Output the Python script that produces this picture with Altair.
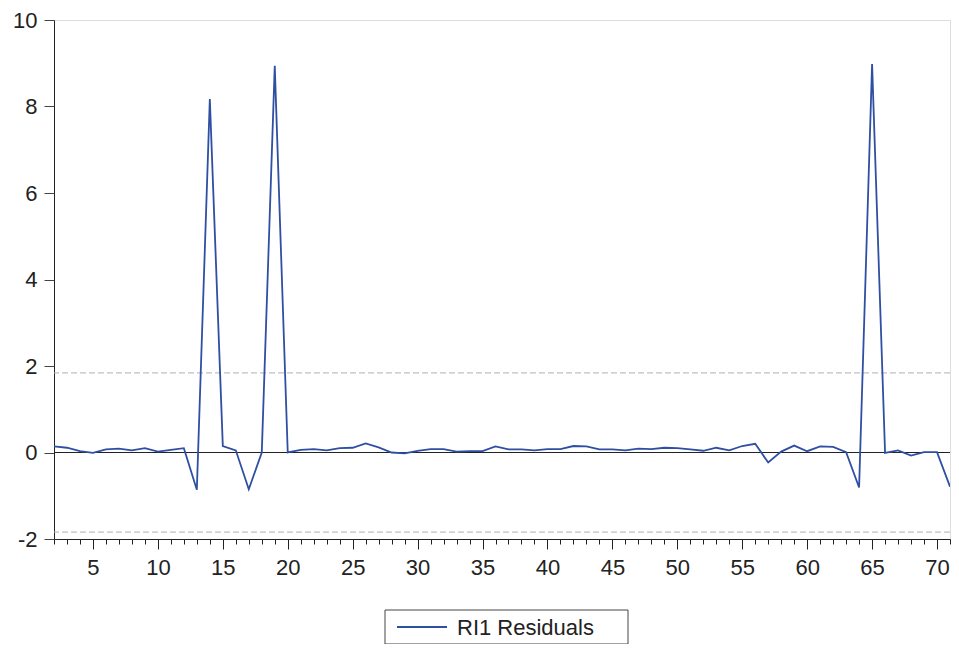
import altair as alt
import pandas as pd

obs = list(range(2, 72))
resid = [0.14, 0.11, 0.03, -0.01, 0.07, 0.09, 0.05, 0.10, 0.02, 0.06,
         0.10, -0.86, 8.17, 0.15, 0.05, -0.85, 0.00, 8.94, 0.00, 0.06,
         0.08, 0.05, 0.10, 0.11, 0.21, 0.12, 0.00, -0.02, 0.04, 0.08,
         0.08, 0.02, 0.03, 0.03, 0.14, 0.07, 0.07, 0.05, 0.08, 0.08,
         0.15, 0.14, 0.07, 0.07, 0.05, 0.09, 0.08, 0.11, 0.10, 0.07,
         0.04, 0.11, 0.05, 0.15, 0.20, -0.23, 0.02, 0.16, 0.03, 0.14,
         0.13, 0.01, -0.81, 8.98, -0.01, 0.05, -0.07, 0.01, 0.01, -0.79]
series_name = ["RI1 Residuals"]
band = [1.84, -1.84]
zero_line = [0.0]

df = pd.DataFrame({"obs": obs, "resid": resid})
df_band = pd.DataFrame({"y": band})
df_zero = pd.DataFrame({"y": zero_line})
df_leg = pd.DataFrame({"name": series_name})

FONT = "Liberation Sans"
BLUE = "#2f4fa3"
FS = 22

xscale = alt.Scale(domain=[2, 71], nice=False, zero=False)
yscale = alt.Scale(domain=[-2, 10], nice=False, zero=False)

line = alt.Chart(df).mark_line(strokeWidth=1.8, color=BLUE, clip=True).encode(
    x=alt.X("obs:Q", scale=xscale, axis=alt.Axis(
        title=None, values=obs, grid=False,
        labelExpr="datum.value % 5 === 0 ? datum.label : ''",
        tickSize={"condition": {"test": "datum.value % 5 === 0", "value": 10}, "value": 5},
        tickColor="#222", domainColor="#222", labelFontSize=FS, labelFont=FONT,
        labelColor="#222", labelPadding=8, labelFlush=False, labelOverlap=False)),
    y=alt.Y("resid:Q", scale=yscale, axis=alt.Axis(
        title=None, values=[-2, 0, 2, 4, 6, 8, 10], grid=False, tickSize=10,
        tickColor="#444", domainColor="#222", labelFontSize=FS, labelFont=FONT,
        labelExpr="replace(datum.label, '\u2212', '-')",
        labelColor="#222", labelPadding=7)),
)

bands = alt.Chart(df_band).mark_rule(color="#b0b0b0", strokeDash=[6, 3], strokeWidth=1).encode(
    y=alt.Y("y:Q", scale=yscale)
)
zero = alt.Chart(df_zero).mark_rule(color="#222", strokeWidth=1).encode(
    y=alt.Y("y:Q", scale=yscale)
)

# legend drawn as a boxed key below the plot
leg_box = alt.Chart(df_leg).mark_rect(fill="white", stroke="#444", strokeWidth=1, clip=False).encode(
    x=alt.value(331), x2=alt.value(574), y=alt.value(590), y2=alt.value(624)
)
leg_line = alt.Chart(df_leg).mark_rule(color=BLUE, strokeWidth=1.8, clip=False).encode(
    x=alt.value(343), x2=alt.value(393), y=alt.value(607)
)
leg_text = alt.Chart(df_leg).mark_text(
    align="left", baseline="middle", font=FONT, fontSize=FS, color="#222", clip=False
).encode(x=alt.value(403), y=alt.value(608), text="name:N")

chart = alt.layer(bands, zero, line, leg_box, leg_line, leg_text).properties(
    width=896, height=519,
    padding={"left": 46, "top": 12, "right": 1, "bottom": 105},
    autosize=alt.AutoSizeParams(type="none"),
).configure_view(stroke="#333", strokeWidth=1.5).configure(background="white")

chart.save("out.html", embed_options={"renderer": "svg", "actions": False})
